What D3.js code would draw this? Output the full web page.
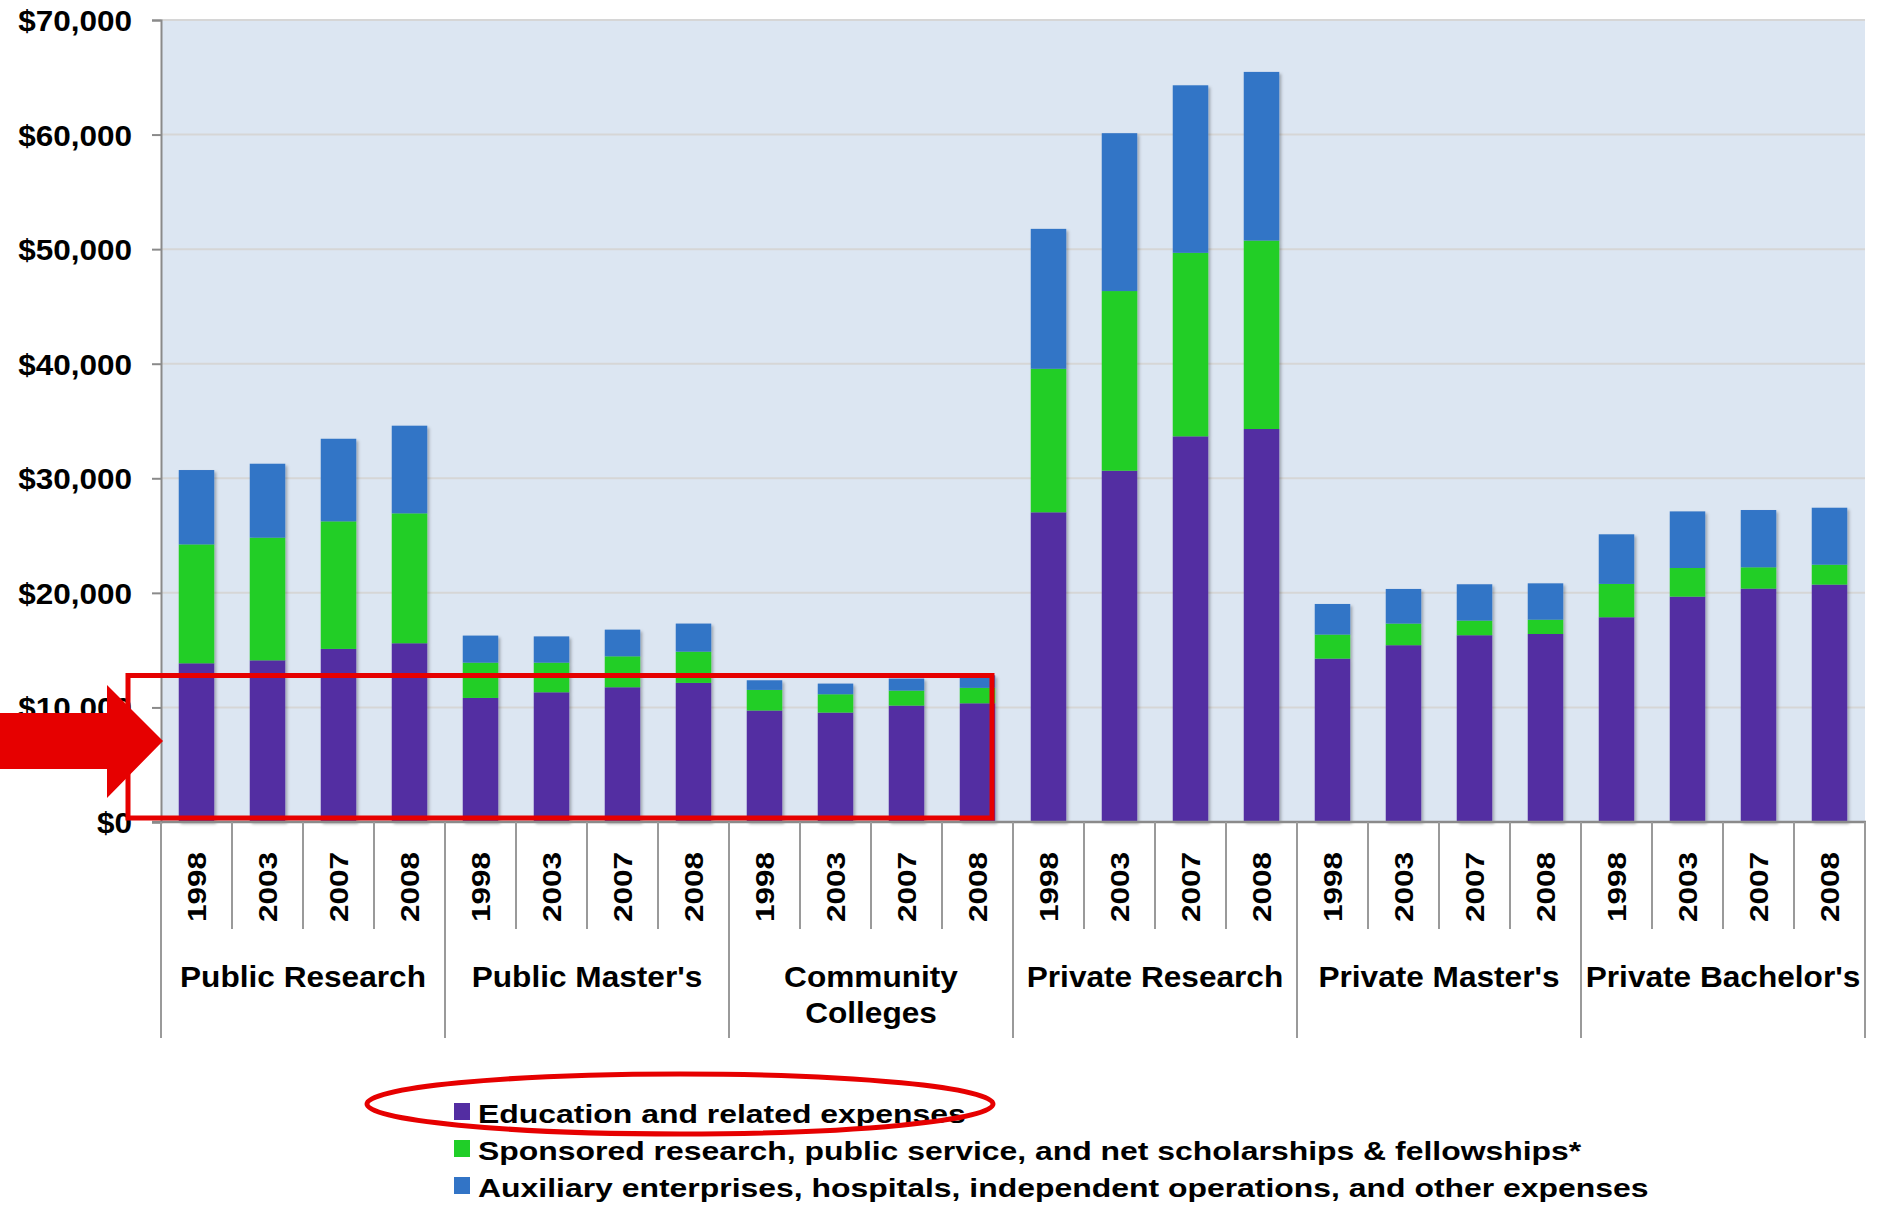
<!DOCTYPE html>
<html>
<head>
<meta charset="utf-8">
<script src="https://cdn.jsdelivr.net/npm/d3@7"></script>
<style>
  html, body { margin: 0; padding: 0; background: #ffffff; }
  svg { display: block; }
  text { font-family: "Liberation Sans", Arial, Helvetica, sans-serif; font-weight: bold; fill: #000; }
</style>
</head>
<body>
<svg id="chart" width="1878" height="1205"></svg>
<script>
// ---------------- data ----------------
const groups = ["Public Research", "Public Master's", "Community Colleges", "Private Research", "Private Master's", "Private Bachelor's"];
const groupLines = [["Public Research"], ["Public Master's"], ["Community", "Colleges"], ["Private Research"], ["Private Master's"], ["Private Bachelor's"]];
const years = ["1998", "2003", "2007", "2008"];

// values per bar, in order group x year
const education = [
  13850, 14110, 15110, 15600,
  10830, 11320, 11760, 12140,
  9730, 9550, 10160, 10360,
  27030, 30660, 33660, 34300,
  14260, 15430, 16300, 16410,
  17870, 19670, 20370, 20720
];
const sponsored = [
  10380, 10710, 11130, 11340,
  3080, 2590, 2700, 2730,
  1800, 1600, 1310, 1350,
  12530, 15680, 16020, 16450,
  2100, 1890, 1280, 1250,
  2910, 2500, 1860, 1740
];
const auxiliary = [
  6490, 6450, 7210, 7650,
  2360, 2290, 2330, 2450,
  840, 930, 1050, 1090,
  12210, 13780, 14620, 14720,
  2670, 3020, 3170, 3170,
  4330, 4940, 5000, 4970
];

const seriesNames = [
  "Education and related expenses",
  "Sponsored research, public service, and net scholarships & fellowships*",
  "Auxiliary enterprises, hospitals, independent operations, and other expenses"
];
const seriesColors = ["#532da2", "#20ce28", "#3274c6"];
const yTicks = [0, 10000, 20000, 30000, 40000, 50000, 60000, 70000];

// ---------------- layout ----------------
const svg = d3.select("#chart");
const pLeft = 161, pRight = 1865, pTop = 20, pBottom = 822;

const rows = [];
groups.forEach((g, gi) => years.forEach((yr, yi) => {
  const i = gi * years.length + yi;
  rows.push({ key: g + "|" + yr, group: g, year: yr,
              edu: education[i], spo: sponsored[i], aux: auxiliary[i] });
}));

const y = d3.scaleLinear().domain([0, 70000]).range([pBottom, pTop]);
const x = d3.scaleBand().domain(rows.map(d => d.key)).range([pLeft, pRight])
  .paddingInner(0.5).paddingOuter(0.25);
const slot = d3.scaleLinear().domain([0, rows.length]).range([pLeft, pRight]);

// defs
const defs = svg.append("defs");
const f = defs.append("filter").attr("id", "shadow").attr("x", "-20%").attr("y", "-5%").attr("width", "150%").attr("height", "115%");
f.append("feDropShadow").attr("dx", 2).attr("dy", 2).attr("stdDeviation", 1.6)
  .attr("flood-color", "#000").attr("flood-opacity", 0.28);

// plot background
svg.append("rect").attr("x", pLeft).attr("y", pTop).attr("width", pRight - pLeft).attr("height", pBottom - pTop)
  .attr("fill", "#dce6f2");

// gridlines
svg.append("g").selectAll("line").data(yTicks.filter(t => t > 0)).join("line")
  .attr("x1", pLeft).attr("x2", pRight).attr("y1", d => y(d)).attr("y2", d => y(d))
  .attr("stroke", "#d6d6d6").attr("stroke-width", 2);

// bars
const stack = d3.stack().keys(["edu", "spo", "aux"]);
const stacked = stack(rows);
const barLayer = svg.append("g").attr("filter", "url(#shadow)");
barLayer.selectAll("g").data(stacked).join("g")
  .attr("fill", (d, i) => seriesColors[i])
  .selectAll("rect").data(d => d).join("rect")
  .attr("x", d => x(d.data.key))
  .attr("width", x.bandwidth())
  .attr("y", d => y(d[1]))
  .attr("height", d => y(d[0]) - y(d[1]));

// y axis
const yAxis = d3.axisLeft(y).tickValues(yTicks).tickSize(9).tickPadding(0)
  .tickFormat(d => "$" + d3.format(",")(d));
const yg = svg.append("g").attr("transform", `translate(${pLeft},0)`).call(yAxis);
yg.select(".domain").attr("stroke", "#8a8a8a").attr("stroke-width", 2);
yg.selectAll(".tick line").attr("stroke", "#8a8a8a").attr("stroke-width", 2);
yg.selectAll(".tick text")
  .attr("x", null).attr("dy", "0.35em")
  .attr("transform", "translate(-29,0) scale(1.05,1)")
  .attr("text-anchor", "end")
  .style("font-size", "30px").style("font-family", "'Liberation Sans', Arial, sans-serif")
  .style("font-weight", "bold").attr("fill", "#000");

// x axis line
svg.append("line").attr("x1", pLeft - 9).attr("x2", pRight + 1).attr("y1", pBottom).attr("y2", pBottom)
  .attr("stroke", "#8a8a8a").attr("stroke-width", 2.5);

// year separators
svg.append("g").selectAll("line").data(d3.range(rows.length + 1)).join("line")
  .attr("x1", d => slot(d)).attr("x2", d => slot(d))
  .attr("y1", pBottom).attr("y2", d => (d % years.length === 0) ? 1038 : 929)
  .attr("stroke", "#9a9a9a").attr("stroke-width", 2);

// year labels
svg.append("g").selectAll("text").data(rows).join("text")
  .attr("transform", d => `translate(${x(d.key) + x.bandwidth() / 2},852) rotate(-90) scale(1.19,1)`)
  .attr("text-anchor", "end").attr("dy", "0.35em")
  .style("font-size", "26.5px")
  .text(d => d.year);

// group labels
const gl = svg.append("g").selectAll("text").data(groups).join("text")
  .attr("transform", (d, i) => `translate(${(slot(i * 4) + slot(i * 4 + 4)) / 2},987) scale(1.09,1)`)
  .attr("text-anchor", "middle")
  .style("font-size", "29px");
gl.selectAll("tspan").data((d, i) => groupLines[i]).join("tspan")
  .attr("x", 0).attr("dy", (d, j) => j === 0 ? 0 : 36)
  .text(d => d);

// legend
const legendYs = [1123, 1160, 1197];
const lg = svg.append("g");
seriesNames.forEach((name, i) => {
  lg.append("rect").attr("x", 454).attr("y", legendYs[i] - 20).attr("width", 16).attr("height", 17)
    .attr("fill", seriesColors[i]);
  lg.append("text").attr("transform", `translate(478,${legendYs[i]}) scale(1.205,1)`)
    .style("font-size", "26.5px").text(name);
});

// annotations
svg.append("rect").attr("x", 128).attr("y", 675.5).attr("width", 992 - 128).attr("height", 818 - 675.5)
  .attr("fill", "none").attr("stroke", "#e60000").attr("stroke-width", 5);

const arrow = d3.path();
arrow.moveTo(0, 713); arrow.lineTo(107, 713); arrow.lineTo(107, 685); arrow.lineTo(163, 741);
arrow.lineTo(107, 798); arrow.lineTo(107, 769); arrow.lineTo(0, 769); arrow.closePath();
svg.append("path").attr("d", arrow.toString()).attr("fill", "#e60000");

svg.append("ellipse").attr("cx", 680).attr("cy", 1104).attr("rx", 313).attr("ry", 30)
  .attr("fill", "none").attr("stroke", "#e60000").attr("stroke-width", 5);
</script>
</body>
</html>
